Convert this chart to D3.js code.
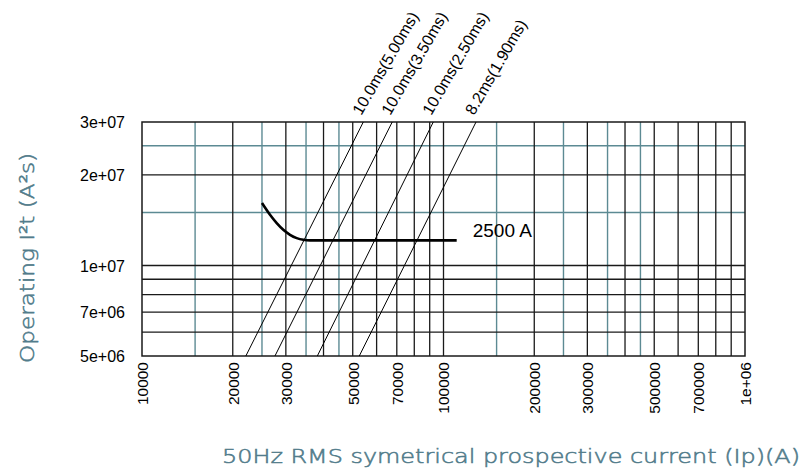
<!DOCTYPE html>
<html>
<head>
<meta charset="utf-8">
<script src="https://cdn.jsdelivr.net/npm/d3@7"></script>
<style>
  html, body { margin: 0; padding: 0; background: #ffffff; }
  svg { display: block; }
</style>
</head>
<body>
<svg id="chart" width="808" height="475"></svg>
<script>
// ---------- data ----------
const xTicks = [10000, 20000, 30000, 50000, 70000, 100000, 200000, 300000, 500000, 700000, 1000000];
const xTickLabels = ["10000", "20000", "30000", "50000", "70000", "100000", "200000", "300000", "500000", "700000", "1e+06"];
const yTicks = [5e6, 7e6, 1e7, 2e7, 3e7];
const yTickLabels = ["5e+06", "7e+06", "1e+07", "2e+07", "3e+07"];

const xGridMajor = [20000, 30000, 40000, 50000, 60000, 70000, 80000, 90000, 100000,
                    200000, 300000, 400000, 500000, 600000, 700000, 800000, 900000];
const xGridMinor = [15000, 25000, 35000, 45000, 150000, 250000, 350000, 450000];
const yGridMajor = [6e6, 7e6, 8e6, 9e6, 1e7, 2e7];
const yGridMinor = [1.5e7, 2.5e7];

// let-through lines (prospective current at bottom / top of chart)
const lineLabels = ["10.0ms(5.00ms)", "10.0ms(3.50ms)", "10.0ms(2.50ms)", "8.2ms(1.90ms)"];
const lineStartCurrent = [22100, 27600, 38150, 52560];
const lineStartI2t = [5e6, 5e6, 5e6, 5e6];
const lineEndCurrent = [54200, 67600, 92500, 128200];
const lineEndI2t = [3e7, 3e7, 3e7, 3e7];

// operating I2t curve of the 2500 A fuse
const curveCurrent = [25000, 26580, 27980, 29420, 30970, 32600, 34280, 36070, 110600];
const curveI2t = [1.613e7, 1.474e7, 1.383e7, 1.314e7, 1.265e7, 1.233e7, 1.217e7, 1.212e7, 1.212e7];
const curveLabel = "2500 A";
const curveLabelCurrent = 125000;
const curveLabelI2t = 1.245e7;

const xTitle = "50Hz RMS symetrical prospective current (Ip)(A)";
const yTitle = "Operating I\u00B2t (A\u00B2s)";

// ---------- chart ----------
const svg = d3.select("#chart");
const L = 142, R = 745, T = 122, B = 356;
const x = d3.scaleLog().domain([1e4, 1e6]).range([L, R]);
const y = d3.scaleLog().domain([5e6, 3e7]).range([B, T]);

const teal = "#5c8a93";
const dark = "#1a1a1a";
const titleColor = "#527c8b";
const tickFont = "'Liberation Sans', Arial, sans-serif";
const titleFont = "'DejaVu Sans', 'Open Sans', sans-serif";

const g = svg.append("g");

// minor (teal) grid
g.selectAll(".vminor").data(xGridMinor).join("line")
  .attr("x1", d => x(d)).attr("x2", d => x(d)).attr("y1", T).attr("y2", B)
  .attr("stroke", teal).attr("stroke-width", 1.4);
g.selectAll(".hminor").data(yGridMinor).join("line")
  .attr("x1", L).attr("x2", R).attr("y1", d => y(d)).attr("y2", d => y(d))
  .attr("stroke", teal).attr("stroke-width", 1.4);

// major grid
g.selectAll(".vmajor").data(xGridMajor).join("line")
  .attr("x1", d => x(d)).attr("x2", d => x(d)).attr("y1", T).attr("y2", B)
  .attr("stroke", dark).attr("stroke-width", 1.3);
g.selectAll(".hmajor").data(yGridMajor).join("line")
  .attr("x1", L).attr("x2", R).attr("y1", d => y(d)).attr("y2", d => y(d))
  .attr("stroke", dark).attr("stroke-width", 1.3);

// frame
g.append("rect").attr("x", L).attr("y", T).attr("width", R - L).attr("height", B - T)
  .attr("fill", "none").attr("stroke", dark).attr("stroke-width", 1.5);

// axes (labels only)
const xAxis = d3.axisBottom(x).tickValues(xTicks).tickSize(0)
  .tickFormat((d, i) => xTickLabels[i]);
const xa = svg.append("g").attr("transform", `translate(0,${B})`).call(xAxis);
xa.select(".domain").remove();
xa.selectAll("text")
  .attr("font-family", tickFont).attr("font-size", 15.5).attr("fill", "#000")
  .attr("transform", "rotate(-90)")
  .attr("text-anchor", "end")
  .attr("x", -6).attr("y", 0).attr("dy", "0.35em");

const yAxis = d3.axisLeft(y).tickValues(yTicks).tickSize(0)
  .tickFormat((d, i) => yTickLabels[i]);
const ya = svg.append("g").attr("transform", `translate(${L},0)`).call(yAxis);
ya.select(".domain").remove();
ya.selectAll("text")
  .attr("font-family", tickFont).attr("font-size", 16).attr("fill", "#000")
  .attr("x", -17).attr("dy", "0.35em");

// let-through lines
const lines = lineLabels.map((lab, i) => ({
  label: lab,
  p0: [lineStartCurrent[i], lineStartI2t[i]],
  p1: [lineEndCurrent[i], lineEndI2t[i]]
}));
g.selectAll(".lt").data(lines).join("line")
  .attr("x1", d => x(d.p0[0])).attr("y1", d => y(d.p0[1]))
  .attr("x2", d => x(d.p1[0])).attr("y2", d => y(d.p1[1]))
  .attr("stroke", "#000").attr("stroke-width", 1);

svg.selectAll(".ltlab").data(lines).join("text")
  .attr("transform", d => `translate(${x(d.p1[0]) - 2},${y(d.p1[1]) - 6}) rotate(-60)`)
  .attr("font-family", tickFont).attr("font-size", 16).attr("fill", "#000")
  .text(d => d.label);

// operating curve
const curvePts = curveCurrent.map((c, i) => [c, curveI2t[i]]);
g.append("path").datum(curvePts)
  .attr("d", d3.line().x(d => x(d[0])).y(d => y(d[1])).curve(d3.curveMonotoneX))
  .attr("fill", "none").attr("stroke", "#000").attr("stroke-width", 2.6);

svg.append("text")
  .attr("x", x(curveLabelCurrent)).attr("y", y(curveLabelI2t))
  .attr("font-family", tickFont).attr("font-size", 19).attr("fill", "#000")
  .text(curveLabel);

// titles
svg.append("text")
  .attr("x", 800).attr("y", 463).attr("text-anchor", "end")
  .attr("font-family", titleFont).attr("font-size", 20).attr("font-weight", 200)
  .attr("stroke", titleColor).attr("stroke-width", 0.55)
  .attr("textLength", 578).attr("lengthAdjust", "spacingAndGlyphs")
  .attr("fill", titleColor).text(xTitle);

svg.append("text")
  .attr("transform", "translate(34,258) rotate(-90)").attr("text-anchor", "middle")
  .attr("font-family", titleFont).attr("font-size", 20).attr("font-weight", 200)
  .attr("stroke", titleColor).attr("stroke-width", 0.55)
  .attr("textLength", 210).attr("lengthAdjust", "spacingAndGlyphs")
  .attr("fill", titleColor).text(yTitle);
</script>
</body>
</html>
